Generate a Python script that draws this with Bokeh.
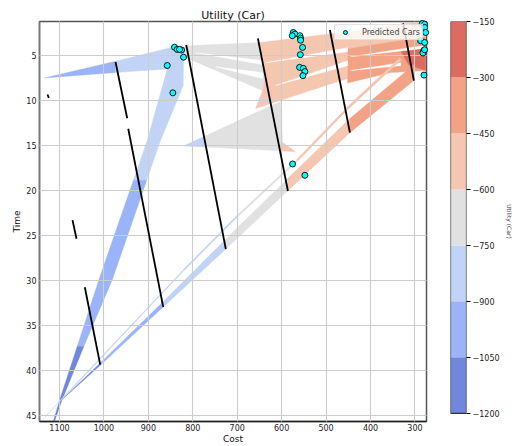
from bokeh.plotting import figure
from bokeh.layouts import row
from bokeh.models import Range1d, FixedTicker, Legend, LegendItem
from bokeh.embed import file_html
from bokeh.resources import INLINE

FONT = "DejaVu Sans"

# ---- colour levels (Utility) ----
levels = [-1200, -1050, -900, -750, -600, -450, -300, -150]
band_colors = ["#7087dc", "#9bb4f8", "#c1d4f6", "#e1e1e1", "#f5c6b0", "#f2a386", "#dc6b60"]

# ---- filled contour regions (level index, vertices in cost / time) ----
region_level = [1, 2, 1, 0, 2, 3, 4, 3, 4, 4, 5, 6]
region_cost = [
    [1133.8, 973.9, 973.9],
    [973.9, 841.1, 816.3, 820.8, 821.5, 872.6, 903.7, 933.6, 902.5, 857.5, 973.9],
    [903.7, 981.3, 1045.3, 1060.1, 1011.5, 933.6],
    [1045.3, 1095.5, 1112.4, 1114.6, 1100.0, 1060.1],
    [820.8, 771.3, 771.3],
    [771.3, 647.4, 602.4, 597.9, 602.4, 771.3],
    [597.9, 568.6, 602.4],
    [816.3, 651.9, 636.2, 642.9, 816.3],
    [651.9, 451.5, 451.5, 490.2, 658.7, 642.9, 636.2],
    [451.5, 327.7, 275.9, 275.9, 451.5],
    [451.5, 275.9, 275.9, 354.7, 451.5],
    [332.2, 275.9, 275.9, 314.2],
]
region_time = [
    [7.47, 5.62, 6.88],
    [5.62, 4.00, 4.06, 5.55, 8.32, 14.42, 18.85, 18.85, 14.42, 6.47, 6.88],
    [18.85, 29.93, 37.32, 37.32, 29.93, 18.85],
    [37.32, 43.45, 45.83, 45.77, 43.34, 37.32],
    [15.03, 13.91, 15.16],
    [13.91, 11.09, 10.09, 14.64, 15.58, 15.16],
    [14.64, 15.69, 15.58],
    [3.89, 3.56, 7.22, 8.88, 5.19],
    [3.56, 2.34, 7.55, 8.14, 10.87, 8.88, 7.22],
    [2.34, 1.45, 1.23, 2.89, 4.22],
    [4.22, 2.89, 6.66, 6.88, 8.03],
    [4.45, 3.78, 6.66, 6.00],
]

# empty slivers inside the filled regions
gap_cost = [[793.8, 642.9, 642.9], [748.8, 642.9, 642.9], [636.2, 451.5, 451.5],
            [613.7, 451.5, 451.5], [444.8, 275.9, 275.9], [444.8, 332.2, 332.2]]
gap_time = [[4.67, 5.55, 5.99], [6.22, 6.88, 7.55], [5.78, 4.11, 4.56],
            [8.32, 5.55, 6.11], [5.11, 3.84, 4.17], [6.66, 5.78, 6.11]]

# diagonal wedge (lower and upper edge), level of each piece
band_cost = [1098.9, 1007.7, 867.0, 725.6, 585.9, 446.4, 302.3]
band_time_lo = [43.45, 39.40, 32.96, 26.50, 20.01, 13.56, 7.77]
band_time_hi = [43.45, 39.13, 32.37, 25.39, 18.63, 11.98, 6.00]
band_level = [0, 1, 2, 3, 4, 5]

# thin streak
streak_cost = [1137.6, 1098.9, 820.1, 699.9, 564.8, 452.2, 332.2]
streak_time = [45.44, 43.40, 28.82, 22.84, 16.63, 10.87, 5.33]
streak_level = [2, 2, 2, 3, 4, 4]

# black line segments
seg_x0 = [1127.0, 973.9, 945.3, 814.7, 653.5, 491.4, 326.6, 1070.7, 1043.0]
seg_y0 = [9.32, 5.70, 13.12, 3.81, 3.08, 2.15, 1.40, 23.28, 30.74]
seg_x1 = [1124.1, 947.6, 866.5, 725.6, 585.9, 446.4, 302.3, 1061.7, 1008.4]
seg_y1 = [9.69, 11.95, 32.95, 26.50, 20.04, 13.56, 7.77, 25.35, 39.35]

# predicted cars
car_cost = [841.1, 835.0, 825.3, 829.8, 820.8, 857.5, 844.9,
            573.8, 570.2, 576.1, 558.9, 557.4, 557.4, 552.9, 558.0, 559.6, 551.3, 547.7, 552.2,
            575.4, 547.7,
            283.3, 278.2, 278.2, 275.9, 287.2, 278.2, 279.7, 282.0, 278.2, 279.7]
car_time = [4.06, 4.31, 4.37, 4.30, 5.17, 6.09, 9.13,
            2.42, 2.60, 2.78, 2.78, 3.06, 3.28, 4.08, 4.89, 6.30, 6.41, 6.77, 7.22,
            17.04, 18.30,
            1.42, 1.51, 1.86, 2.42, 3.34, 3.53, 4.39, 4.70, 4.34, 7.16]

x_ticks = [1100, 1000, 900, 800, 700, 600, 500, 400, 300]
y_ticks = [5, 10, 15, 20, 25, 30, 35, 40, 45]

# ------------------------------------------------------------------
p = figure(width=436, height=446, x_range=Range1d(1145, 274), y_range=Range1d(45.67, 1.2),
           toolbar_location=None, output_backend="svg", title="Utility (Car)",
           min_border_left=39, min_border_right=10, min_border_top=21, min_border_bottom=24)
p.title.text_font = FONT
p.title.text_font_size = "11px"
p.title.text_font_style = "normal"
p.title.align = "center"
p.title.standoff = 0
p.title.text_color = "#111111"

xs, ys, cs = [], [], []
for lv, cx, ty in zip(region_level, region_cost, region_time):
    xs.append(cx); ys.append(ty); cs.append(band_colors[lv])
p.patches(xs, ys, fill_color=cs, line_color=cs, line_width=0.4)

p.patches(gap_cost, gap_time, fill_color="white", line_color="white", line_width=0.4)

bx, by, bc = [], [], []
for i, lv in enumerate(band_level):
    bx.append([band_cost[i], band_cost[i + 1], band_cost[i + 1], band_cost[i]])
    by.append([band_time_lo[i], band_time_lo[i + 1], band_time_hi[i + 1], band_time_hi[i]])
    bc.append(band_colors[lv])
p.patches(bx, by, fill_color=bc, line_color=bc, line_width=0.4)

sx, sy, sc, sw = [], [], [], []
for i, lv in enumerate(streak_level):
    sx.append([streak_cost[i], streak_cost[i + 1]])
    sy.append([streak_time[i], streak_time[i + 1]])
    sc.append(band_colors[lv])
    sw.append(0.8 + 0.4 * i)
p.multi_line(sx, sy, line_color=sc, line_width=sw)

seg = p.segment(seg_x0, seg_y0, seg_x1, seg_y1, line_color="black", line_width=1.8)
seg.level = "annotation"
cars = p.scatter(car_cost, car_time, marker="circle", size=6, fill_color="#00ffff",
                 line_color="black", line_width=0.9)
cars.level = "annotation"

legend = Legend(items=[LegendItem(label="Predicted Cars", renderers=[cars])],
                location="top_right", label_text_font=FONT, label_text_font_size="8px",
                glyph_width=16, glyph_height=10, label_height=10, padding=2, spacing=0,
                margin=3, label_standoff=9, border_line_color="#cccccc",
                background_fill_alpha=0.8)
p.add_layout(legend)

p.xaxis.ticker = FixedTicker(ticks=x_ticks)
p.yaxis.ticker = FixedTicker(ticks=y_ticks)
p.xaxis.axis_label = "Cost"
p.yaxis.axis_label = "Time"
for ax in (p.xaxis, p.yaxis):
    ax.axis_label_text_font = FONT
    ax.axis_label_text_font_size = "9px"
    ax.axis_label_text_font_style = "normal"
    ax.axis_label_text_color = "#111111"
    ax.major_label_text_font = FONT
    ax.major_label_text_font_size = "8px"
    ax.major_label_text_color = "#222222"
    ax.major_tick_line_color = None
    ax.minor_tick_line_color = None
    ax.major_tick_out = 0
    ax.major_label_standoff = 3
    ax.axis_label_standoff = 1
p.xaxis.major_label_standoff = 2
p.xaxis.axis_label_standoff = 0
p.xaxis.axis_line_color = "#222222"
p.xaxis.axis_line_width = 1.5
p.yaxis.axis_line_color = "#777777"
p.yaxis.axis_line_width = 1.5
p.outline_line_color = "#555555"
p.outline_line_width = 1.5
p.grid.grid_line_color = "#cccccc"
p.grid.grid_line_width = 1.1
p.grid.level = "guide"

# ---- colour bar (frame aligned with the main plot, bar a little shorter) ----
cb = figure(width=79, height=446, x_range=Range1d(0, 1), y_range=Range1d(-1222, -150),
            toolbar_location=None, output_backend="svg", min_border_left=14,
            min_border_right=42, min_border_top=21, min_border_bottom=24,
            x_axis_location=None, y_axis_location="right")
cb.quad(left=0, right=1, bottom=levels[:-1], top=levels[1:], fill_color=band_colors,
        line_color=None)
cb.quad(left=0, right=1, bottom=levels[0], top=levels[-1], fill_color=None,
        line_color="#333333", line_width=1.2)
cb.grid.visible = False
cb.outline_line_color = None
cb.background_fill_color = None
cb.yaxis.ticker = FixedTicker(ticks=levels)
cb.yaxis.major_label_overrides = {v: "\u2212" + str(abs(v)) for v in levels}
cb.yaxis.major_label_text_font = FONT
cb.yaxis.major_label_text_font_size = "8px"
cb.yaxis.major_label_text_color = "#222222"
cb.yaxis.major_tick_out = 4
cb.yaxis.major_tick_in = 0
cb.yaxis.minor_tick_line_color = None
cb.yaxis.major_label_standoff = 2
cb.yaxis.axis_line_color = None
cb.yaxis.axis_label = "Utility (Car)"
cb.yaxis.axis_label_text_font = FONT
cb.yaxis.axis_label_text_font_size = "6px"
cb.yaxis.axis_label_text_font_style = "normal"
cb.yaxis.axis_label_standoff = 3

layout = row(p, cb)
open("out.html", "w").write(file_html(layout, INLINE))
